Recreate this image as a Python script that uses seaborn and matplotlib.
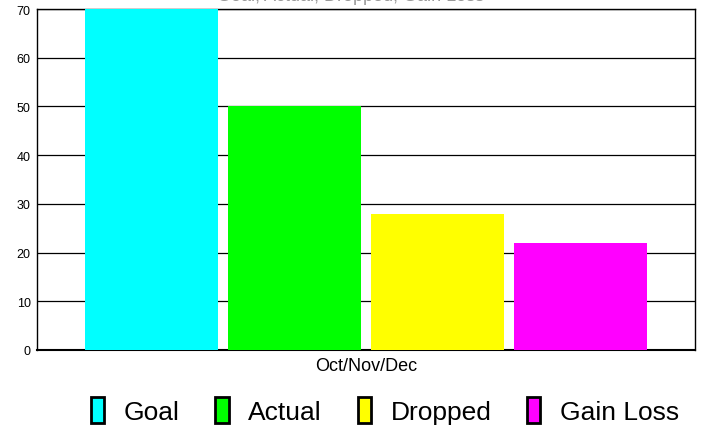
import numpy as np
import pandas as pd
import matplotlib
matplotlib.use("Agg")
import matplotlib.pyplot as plt
from matplotlib.patches import Patch
import seaborn as sns

# ==========================================
# Data
# ==========================================
period = ["Oct/Nov/Dec"]
series = ["Goal", "Actual", "Dropped", "Gain Loss"]
values = [70, 50, 28, 22]
colors = ["#00FFFF", "#00FF00", "#FFFF00", "#FF00FF"]
y_ticks = [0, 10, 20, 30, 40, 50, 60, 70]
chart_title = "Goal, Actual, Dropped, Gain Loss"

df = pd.DataFrame({
    "period": period * len(series),
    "series": series,
    "value": values,
})

# ==========================================
# Plot
# ==========================================
sns.set_style("white")
plt.rcParams["font.family"] = ["Liberation Sans", "DejaVu Sans"]
plt.rcParams["text.color"] = "black"

fig = plt.figure(figsize=(7.02, 4.27), dpi=100)
ax = fig.add_axes([37 / 702, 76 / 427, 658 / 702, 341 / 427])

sns.barplot(data=df, x="period", y="value", hue="series", hue_order=series,
            palette=colors, width=0.871, gap=0.072, saturation=1,
            edgecolor="none", legend=False, ax=ax, zorder=3)

ax.set_ylim(0, 70)
ax.set_xlim(-0.5, 0.5)
ax.set_yticks(y_ticks)
ax.tick_params(axis="y", labelsize=9, length=0, pad=4.5, colors="black")
ax.tick_params(axis="x", labelsize=13, length=0, pad=5, colors="black")
ax.yaxis.grid(True, color="black", linewidth=0.9, zorder=0)
ax.set_axisbelow(True)
ax.set_xlabel("")
ax.set_ylabel("")
for sp in ax.spines.values():
    sp.set_color("black")
    sp.set_linewidth(1.0)
ax.spines["bottom"].set_linewidth(1.5)

# title sits mostly above the canvas, clipped like the original
fig.text(351 / 702, 1 - 0.8 / 427, chart_title, ha="center", va="baseline",
         fontsize=13, color="#999999")

handles = [Patch(facecolor=c, edgecolor="black", linewidth=2) for c in colors]
fig.legend(handles, series, loc="lower center", bbox_to_anchor=(385 / 702, 2 / 427),
           ncol=4, frameon=False, fontsize=19, handlelength=0.5,
           handleheight=1.1, handletextpad=0.75, columnspacing=1.35,
           borderpad=0, borderaxespad=0, labelcolor="black")

fig.savefig("out.png", dpi=100)
